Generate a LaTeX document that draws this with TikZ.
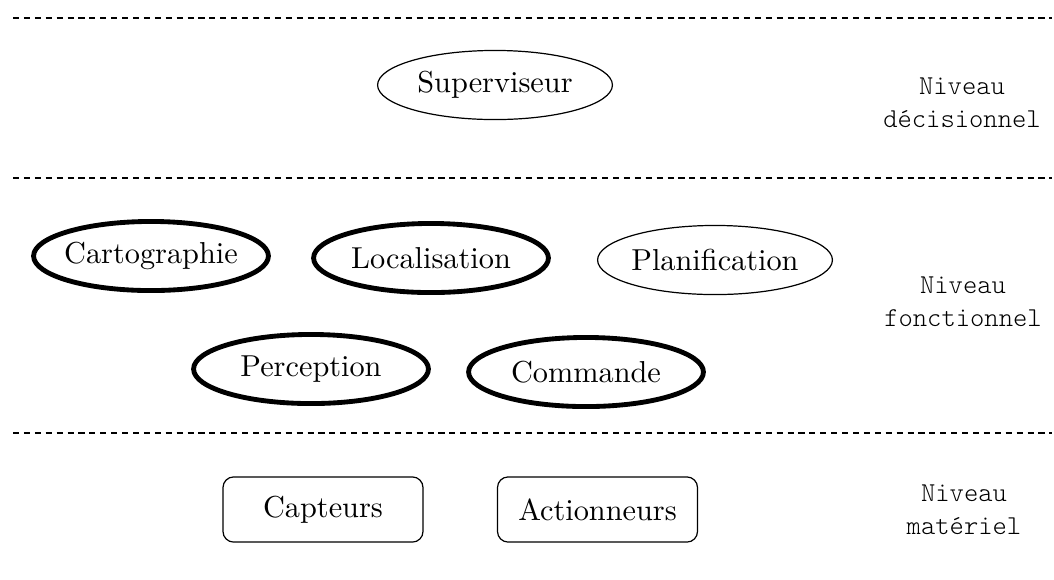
\documentclass[tikz,border=0pt]{standalone}
\usepackage{fontspec}
\setmonofont{Latin Modern Mono Light}
\usetikzlibrary{shapes.geometric}
\begin{document}
\begin{tikzpicture}[x=0.33pt,y=-0.33pt,
  module/.style={ellipse,draw,inner xsep=-12pt,inner ysep=-6pt,
    minimum width=77.5pt,minimum height=22.8pt,font=\normalsize},
  core/.style={module,line width=1.6pt},
  device/.style={draw,rounded corners=3.5pt,minimum width=66pt,minimum height=21.5pt,inner sep=0pt},
  level/.style={align=center,font=\small\ttfamily},
  separator/.style={line width=0.4pt,dash pattern=on 2pt off 1.6pt}]
\useasboundingbox (0,0) rectangle (1054,579);

% separators between the three levels
\coordinate (s1l) at (13,18);  \coordinate (s1r) at (1052,18);
\coordinate (s2l) at (13,178); \coordinate (s2r) at (1052,178);
\coordinate (s3l) at (13,433); \coordinate (s3r) at (1052,433);
\draw[separator] (s1l) -- (s1r);
\draw[separator] (s2l) -- (s2r);
\draw[separator] (s3l) -- (s3r);

% decision level
\node[module] (sup) at (495,85) {Superviseur};

% functional level
\node[core]   (carto) at (151,256) {Cartographie};
\node[core]   (loc)   at (431,258) {Localisation};
\node[module] (plan)  at (715,260) {Planification};
\node[core]   (perc)  at (311,369) {Perception};
\node[core]   (cmd)   at (586,372) {Commande};

% hardware level
\node[device] (capt) at (323,509.5) {Capteurs};
\node[device] (act)  at (597.5,509.5) {Actionneurs};

% level names
\node[level] (ldec) at (962,103) {Niveau\\décisionnel};
\node[level] (lfon) at (963,302) {Niveau\\fonctionnel};
\node[level] (lmat) at (964,510) {Niveau\\matériel};
\end{tikzpicture}
\end{document}
